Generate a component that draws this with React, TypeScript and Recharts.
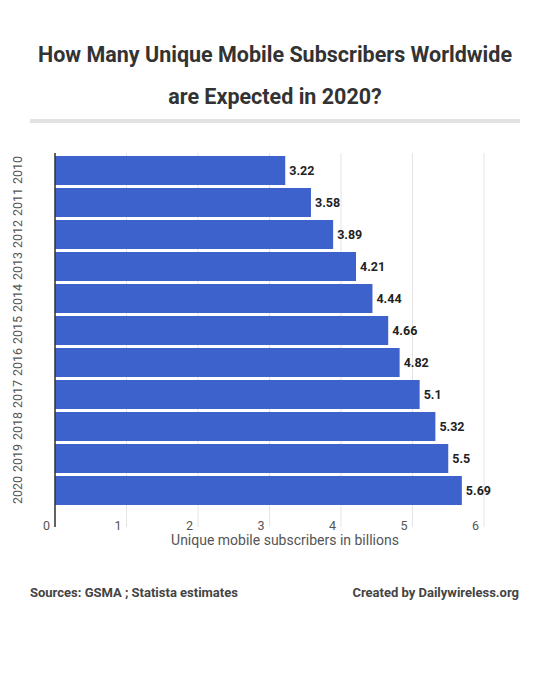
import React from 'react';
import { BarChart, Bar, XAxis, YAxis, CartesianGrid, LabelList } from 'recharts';

// years and unique mobile subscribers (billions)
const years = ['2010', '2011', '2012', '2013', '2014', '2015', '2016', '2017', '2018', '2019', '2020'];
const subscribers = [3.22, 3.58, 3.89, 4.21, 4.44, 4.66, 4.82, 5.1, 5.32, 5.5, 5.69];
const xTicks = [0, 1, 2, 3, 4, 5, 6];

const data = years.map((year, i) => ({ year, value: subscribers[i] }));

const BAR_COLOR = '#3e62cb';
const FONT = 'Roboto, "Open Sans", sans-serif';

const YearTick = ({ x, y, payload }: any) => (
  <text
    x={x - 30}
    y={y}
    transform={`rotate(-90, ${x - 30}, ${y})`}
    textAnchor="middle"
    dominantBaseline="central"
    fontSize={12.5}
    fill="#555"
    fontFamily={FONT}
  >
    {payload.value}
  </text>
);

const ValueTick = ({ x, y, payload }: any) => (
  <text
    x={x - 5}
    y={y - 10}
    textAnchor="end"
    dominantBaseline="central"
    fontSize={12.5}
    fill="#555"
    fontFamily={FONT}
  >
    {payload.value}
  </text>
);

export default function App() {
  return (
    <div
      style={{
        position: 'relative',
        width: 550,
        height: 683,
        background: '#fff',
        fontFamily: FONT,
        overflow: 'hidden',
      }}
    >
      <style>{'body{margin:0}'}</style>
      <div
        style={{
          position: 'absolute',
          top: 34,
          left: 0,
          width: 550,
          textAlign: 'center',
          fontSize: 21.5,
          fontWeight: 700,
          lineHeight: '42px',
          color: '#333',
        }}
      >
        How Many Unique Mobile Subscribers Worldwide
        <br />
        are Expected in 2020?
      </div>
      <div
        style={{
          position: 'absolute',
          top: 119,
          left: 30,
          width: 490,
          height: 4,
          background: '#e2e2e2',
        }}
      />
      <div style={{ position: 'absolute', top: 0, left: 0 }}>
        <BarChart
          width={550}
          height={560}
          data={data}
          layout="vertical"
          margin={{ top: 153, right: 66, left: 0, bottom: 0 }}
          barSize={29}
        >
          <CartesianGrid horizontal={false} stroke="#e4e4e4" />
          <XAxis
            type="number"
            domain={[0, 6]}
            ticks={xTicks}
            axisLine={false}
            tickLine={false}
            height={33}
            tick={<ValueTick />}
            interval={0}
          />
          <YAxis
            type="category"
            dataKey="year"
            width={55}
            padding={{ top: 1, bottom: 21 }}
            axisLine={{ stroke: '#333', strokeWidth: 1.5 }}
            tickLine={false}
            tick={<YearTick />}
            interval={0}
          />
          <Bar dataKey="value" fill={BAR_COLOR} isAnimationActive={false}>
            <LabelList
              dataKey="value"
              position="right"
              offset={4}
              fontSize={12.5}
              fontWeight={700}
              fill="#222"
              fontFamily={FONT}
            />
          </Bar>
        </BarChart>
      </div>
      <div
        style={{
          position: 'absolute',
          top: 532,
          left: 70,
          width: 430,
          textAlign: 'center',
          fontSize: 14,
          color: '#555',
        }}
      >
        Unique mobile subscribers in billions
      </div>
      <div
        style={{
          position: 'absolute',
          top: 585,
          left: 30,
          fontSize: 13,
          fontWeight: 700,
          color: '#444',
        }}
      >
        Sources: GSMA ; Statista estimates
      </div>
      <div
        style={{
          position: 'absolute',
          top: 585,
          right: 31,
          fontSize: 13,
          fontWeight: 700,
          color: '#444',
        }}
      >
        Created by Dailywireless.org
      </div>
    </div>
  );
}
